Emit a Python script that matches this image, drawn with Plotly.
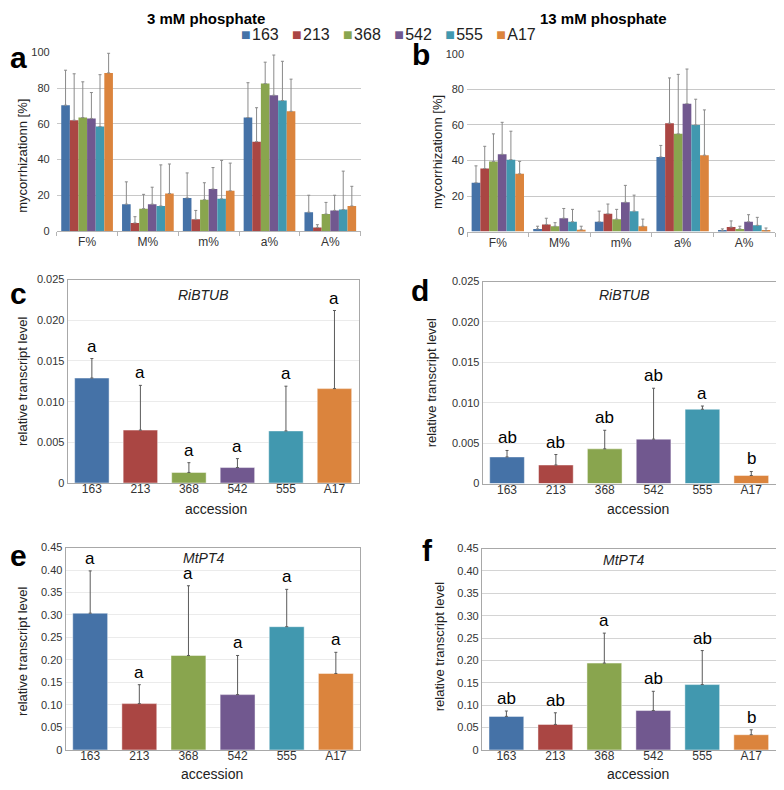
import plotly.graph_objects as go

# the page keeps the browser's 8 px body margin, so the figure is made
# smaller to fit the 784x790 window; positions below are read off the
# reference picture and mapped into the figure by to_fx / to_fy
PAGE_W, PAGE_H = 784, 790
OFF = 8
W, H = PAGE_W - 2 * OFF, PAGE_H - 2 * OFF
KX = W / (781 - OFF)
KY = H / (788 - OFF)
FONT = "Liberation Sans, Arial, sans-serif"

accessions = ['163', '213', '368', '542', '555', 'A17']
colors = ['#4572A7', '#AA4643', '#89A54E', '#71588F', '#4198AF', '#DB843D']
parameters = ['F%', 'M%', 'm%', 'a%', 'A%']

# mycorrhization [%], one row per accession, columns = parameters
myc_3mM_mean = [
    [70.4, 15.0, 18.5, 63.5, 10.5],
    [62.0, 4.5, 6.5, 50.0, 2.0],
    [63.5, 12.5, 17.5, 82.5, 9.5],
    [63.0, 15.0, 23.5, 76.0, 11.5],
    [58.5, 14.0, 18.0, 73.0, 12.0],
    [88.5, 21.0, 22.5, 67.0, 14.0],
]
myc_3mM_sd = [
    [19.6, 12.5, 14.0, 19.5, 9.5],
    [26.0, 3.5, 5.0, 19.0, 1.5],
    [20.0, 8.0, 9.5, 12.0, 6.5],
    [14.5, 9.5, 12.0, 22.5, 8.5],
    [29.0, 23.0, 21.5, 22.0, 21.5],
    [11.0, 16.5, 15.5, 18.0, 11.0],
]
myc_13mM_mean = [
    [27.5, 1.5, 5.5, 42.0, 0.5],
    [35.5, 4.0, 10.0, 61.0, 2.5],
    [39.5, 3.0, 7.0, 55.0, 1.5],
    [43.5, 7.5, 16.5, 72.0, 5.5],
    [40.5, 5.5, 11.5, 60.0, 3.5],
    [32.5, 1.0, 3.0, 43.0, 0.5],
]
myc_13mM_sd = [
    [9.5, 1.5, 6.0, 6.5, 1.0],
    [12.5, 3.5, 5.5, 25.5, 3.5],
    [15.5, 2.0, 5.5, 33.5, 1.5],
    [18.0, 5.5, 9.5, 19.5, 4.0],
    [16.0, 7.0, 9.0, 14.5, 4.5],
    [7.0, 2.0, 4.0, 25.5, 1.5],
]

# relative transcript levels per accession
ribtub_3mM_mean = [0.0129, 0.0065, 0.0013, 0.0019, 0.0064, 0.0116]
ribtub_3mM_sd = [0.0024, 0.0055, 0.0012, 0.0011, 0.0055, 0.0096]
ribtub_3mM_letters = ['a', 'a', 'a', 'a', 'a', 'a']
ribtub_13mM_mean = [0.0033, 0.0023, 0.0043, 0.0055, 0.0092, 0.0010]
ribtub_13mM_sd = [0.0008, 0.0013, 0.0023, 0.0063, 0.0004, 0.0005]
ribtub_13mM_letters = ['ab', 'ab', 'ab', 'ab', 'a', 'b']
mtpt4_3mM_mean = [0.304, 0.103, 0.210, 0.123, 0.274, 0.170]
mtpt4_3mM_sd = [0.094, 0.042, 0.155, 0.087, 0.083, 0.047]
mtpt4_3mM_letters = ['a', 'a', 'a', 'a', 'a', 'a']
mtpt4_13mM_mean = [0.075, 0.057, 0.194, 0.088, 0.146, 0.034]
mtpt4_13mM_sd = [0.012, 0.026, 0.067, 0.043, 0.076, 0.011]
mtpt4_13mM_letters = ['ab', 'ab', 'a', 'ab', 'ab', 'b']

myc_ticks = [0, 20, 40, 60, 80, 100]
ribtub_ticks = [0, 0.005, 0.010, 0.015, 0.020, 0.025]
ribtub_ticktext = ['0', '0.005', '0.010', '0.015', '0.020', '0.025']
mtpt4_ticks = [0, 0.05, 0.10, 0.15, 0.20, 0.25, 0.30, 0.35, 0.40, 0.45]
mtpt4_ticktext = ['0', '0.05', '0.10', '0.15', '0.20', '0.25', '0.30', '0.35', '0.40', '0.45']


def to_fx(x):
    return min(max((x - OFF) * KX / W, 0), 1)


def to_fy(y):
    return min(max(1 - (y - OFF) * KY / H, 0), 1)


def px_x(x0, x1):
    return [to_fx(x0), to_fx(x1)]


def px_y(y0, y1):
    # y0 = top pixel, y1 = bottom pixel
    return [to_fy(y1), to_fy(y0)]


def note(text, x, y, size, bold=False, italic=False, angle=0, color='#000000', yanchor='middle'):
    if bold:
        text = '<b>' + text + '</b>'
    if italic:
        text = '<i>' + text + '</i>'
    return dict(text=text, x=to_fx(x), y=to_fy(y), xref='paper', yref='paper',
                showarrow=False, textangle=angle, xanchor='center', yanchor=yanchor,
                font=dict(family=FONT, size=size, color=color))


fig = go.Figure()

# panels a and b: grouped bars of mycorrhization parameters
for means, sds, ax in [(myc_3mM_mean, myc_3mM_sd, ''), (myc_13mM_mean, myc_13mM_sd, '2')]:
    for i, acc in enumerate(accessions):
        fig.add_trace(go.Bar(
            x=parameters, y=means[i], name=acc, showlegend=False,
            marker=dict(color=colors[i], line=dict(width=0)),
            error_y=dict(type='data', symmetric=False, array=sds[i],
                         arrayminus=[0] * len(parameters),
                         color='#8a8a8a', thickness=1, width=1.5),
            xaxis='x' + ax, yaxis='y' + ax,
        ))

# panels c-f: transcript levels
gene_panels = [
    (ribtub_3mM_mean, ribtub_3mM_sd, ribtub_3mM_letters, '3'),
    (ribtub_13mM_mean, ribtub_13mM_sd, ribtub_13mM_letters, '4'),
    (mtpt4_3mM_mean, mtpt4_3mM_sd, mtpt4_3mM_letters, '5'),
    (mtpt4_13mM_mean, mtpt4_13mM_sd, mtpt4_13mM_letters, '6'),
]
annotations = []
for means, sds, letters, ax in gene_panels:
    fig.add_trace(go.Bar(
        x=accessions, y=means, width=0.71, showlegend=False,
        marker=dict(color=colors, line=dict(width=1, color='rgba(255,255,255,0.45)')),
        error_y=dict(type='data', symmetric=False, array=sds,
                     arrayminus=[0] * len(accessions),
                     color='#5a5a5a', thickness=1, width=1.5),
        xaxis='x' + ax, yaxis='y' + ax,
    ))
    for i, (m, s, lt) in enumerate(zip(means, sds, letters)):
        # category index, so '163' is not read as a number
        annotations.append(dict(text=lt, x=i, y=m + s, xref='x' + ax, yref='y' + ax,
                                showarrow=False, xanchor='center', yanchor='bottom', yshift=1,
                                font=dict(family=FONT, size=17, color='#000000')))

# legend line above panels a and b
legend_text = '&nbsp;&nbsp;&nbsp;'.join(
    "<span style='color:%s'>■</span>&#8202;%s" % (c, acc) for c, acc in zip(colors, accessions))
annotations.append(note(legend_text, 391, 35, 16, color='#222222'))

# text labels
annotations += [
    note('3 mM phosphate', 207, OFF, 15, bold=True, yanchor='top'),
    note('13 mM phosphate', 607, OFF, 15, bold=True, yanchor='top'),
    note('a', 19, 58, 30, bold=True),
    note('b', 424, 55, 30, bold=True),
    note('c', 19, 296, 30, bold=True),
    note('d', 423, 293, 30, bold=True),
    note('e', 19, 560, 30, bold=True),
    note('f', 430, 555, 30, bold=True),
    note('mycorrhizationn [%]', 23, 157, 13, angle=-90, color='#222222'),
    note('mycorrhizationn [%]', 441, 153, 13, angle=-90, color='#222222'),
    note('relative transcript level', 22, 384, 13, angle=-90, color='#222222'),
    note('relative transcript level', 434, 386, 13, angle=-90, color='#222222'),
    note('relative transcript level', 22, 656, 13, angle=-90, color='#222222'),
    note('relative transcript level', 442, 652, 13, angle=-90, color='#222222'),
    note('accession', 217, 513, 14, color='#222222'),
    note('accession', 642, 513, 14, color='#222222'),
    note('accession', 213, 780, 14, color='#222222'),
    note('accession', 642, 780, 14, color='#222222'),
    note('RiBTUB', 205, 297, 14, italic=True, color='#222222'),
    note('RiBTUB', 629, 297, 14, italic=True, color='#222222'),
    note('MtPT4', 205, 562, 14, italic=True, color='#222222'),
    note('MtPT4', 628, 564, 14, italic=True, color='#222222'),
]

tick_font = dict(family=FONT, size=11, color='#333333')

myc_x = dict(type='category', showline=True, linecolor='#b4b4b4', linewidth=1,
             ticks='outside', tickson='boundaries', ticklen=4, tickcolor='#b4b4b4',
             showgrid=False, tickfont=dict(family=FONT, size=12, color='#333333'),
             range=[-0.5, 4.5])
myc_y = dict(range=[0, 100], tickvals=myc_ticks, showgrid=True, gridcolor='#c8c8c8',
             zeroline=False, showline=False, ticks='', tickfont=tick_font)

gene_x = dict(type='category', showline=True, mirror=True, linecolor='#a8a8a8',
              ticks='', showgrid=False, range=[-0.5, 5.5], ticklabelstandoff=-5,
              tickfont=dict(family=FONT, size=12, color='#333333'))


def gene_y(ticks, text, rng, grid):
    return dict(range=rng, tickvals=ticks, ticktext=text, showgrid=True, gridcolor=grid,
                zeroline=False, showline=True, mirror=True, linecolor='#a8a8a8',
                ticks='', tickfont=tick_font)


fig.update_layout(
    width=W, height=H, autosize=False,
    # keep the panels where they are: no margin growth for edge labels
    margin=dict(l=0, r=0, t=0, b=0, autoexpand=False),
    paper_bgcolor='white', plot_bgcolor='white',
    font=dict(family=FONT, color='#333333'),
    barmode='group', bargap=0.15, bargroupgap=0,
    showlegend=False,
    xaxis=dict(myc_x, domain=px_x(57, 363), anchor='y'),
    yaxis=dict(myc_y, domain=px_y(52.7, 232.7), anchor='x', ticklabelstandoff=6),
    xaxis2=dict(myc_x, domain=px_x(470, 780), anchor='y2'),
    yaxis2=dict(myc_y, domain=px_y(54.3, 233.3), anchor='x2', ticklabelstandoff=2),
    xaxis3=dict(gene_x, domain=px_x(68, 361), anchor='y3'),
    yaxis3=dict(gene_y(ribtub_ticks, ribtub_ticktext, [0, 0.025], '#ebebeb'),
                domain=px_y(281.7, 486.7), anchor='x3'),
    xaxis4=dict(gene_x, domain=px_x(485.7, 780.7), anchor='y4'),
    yaxis4=dict(gene_y(ribtub_ticks, ribtub_ticktext, [0, 0.025], '#e6e6e6'),
                domain=px_y(283.7, 487.3), anchor='x4'),
    xaxis5=dict(gene_x, domain=px_x(66, 362.7), anchor='y5'),
    yaxis5=dict(gene_y(mtpt4_ticks, mtpt4_ticktext, [0, 0.45], '#ebebeb'),
                domain=px_y(551.7, 755.7), anchor='x5'),
    xaxis6=dict(gene_x, domain=px_x(485, 780.7), anchor='y6'),
    yaxis6=dict(gene_y(mtpt4_ticks, mtpt4_ticktext, [0, 0.45], '#d4d4d4'),
                domain=px_y(552.7, 755.7), anchor='x6'),
    annotations=annotations,
)

fig.write_html("out.html")
